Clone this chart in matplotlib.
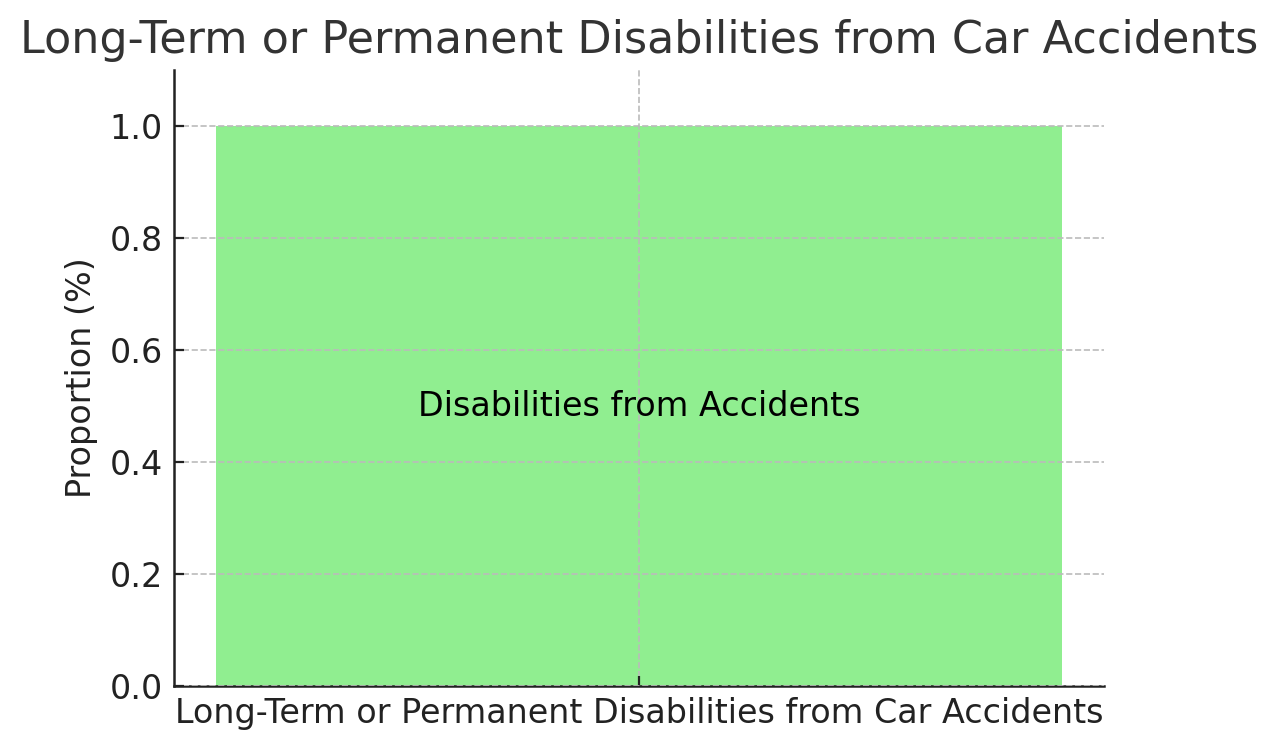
import matplotlib
matplotlib.use("Agg")
import matplotlib.pyplot as plt

categories = ["Long-Term or Permanent Disabilities from Car Accidents"]
values = [1.0]
bar_label = "Disabilities from Accidents"
title = "Long-Term or Permanent Disabilities from Car Accidents"
ylabel = "Proportion (%)"

plt.rcParams['font.family'] = ['DejaVu Sans']
fig = plt.figure(figsize=(6.39, 3.745), dpi=200)
ax = fig.add_axes([174/1278, 1-686/749, (1104-174)/1278, (686-70)/749])
ax.bar(categories, values, color='lightgreen', width=0.8, zorder=2)
ax.set_xlim(-0.44, 0.44)
ax.set_ylim(0, 1.1)
ax.set_yticks([0.0, 0.2, 0.4, 0.6, 0.8, 1.0])
ax.grid(True, linestyle='--', color='#bbbbbb', linewidth=0.6, zorder=0)
ax.set_axisbelow(False)
for s in ['top', 'right']:
    ax.spines[s].set_visible(False)
for s in ['left', 'bottom']:
    ax.spines[s].set_color('#222222')
    ax.spines[s].set_linewidth(0.9)
ax.tick_params(labelsize=12, colors='#222222', direction='in', length=3.5, width=0.8, pad=4)
ax.set_ylabel(ylabel, fontsize=12, color='#222222')
ax.set_title(title, fontsize=16, color='#333333')
ax.text(0, 0.5, bar_label, ha='center', va='center', fontsize=12, color='black', zorder=3)
fig.savefig("out.png", dpi=200)
